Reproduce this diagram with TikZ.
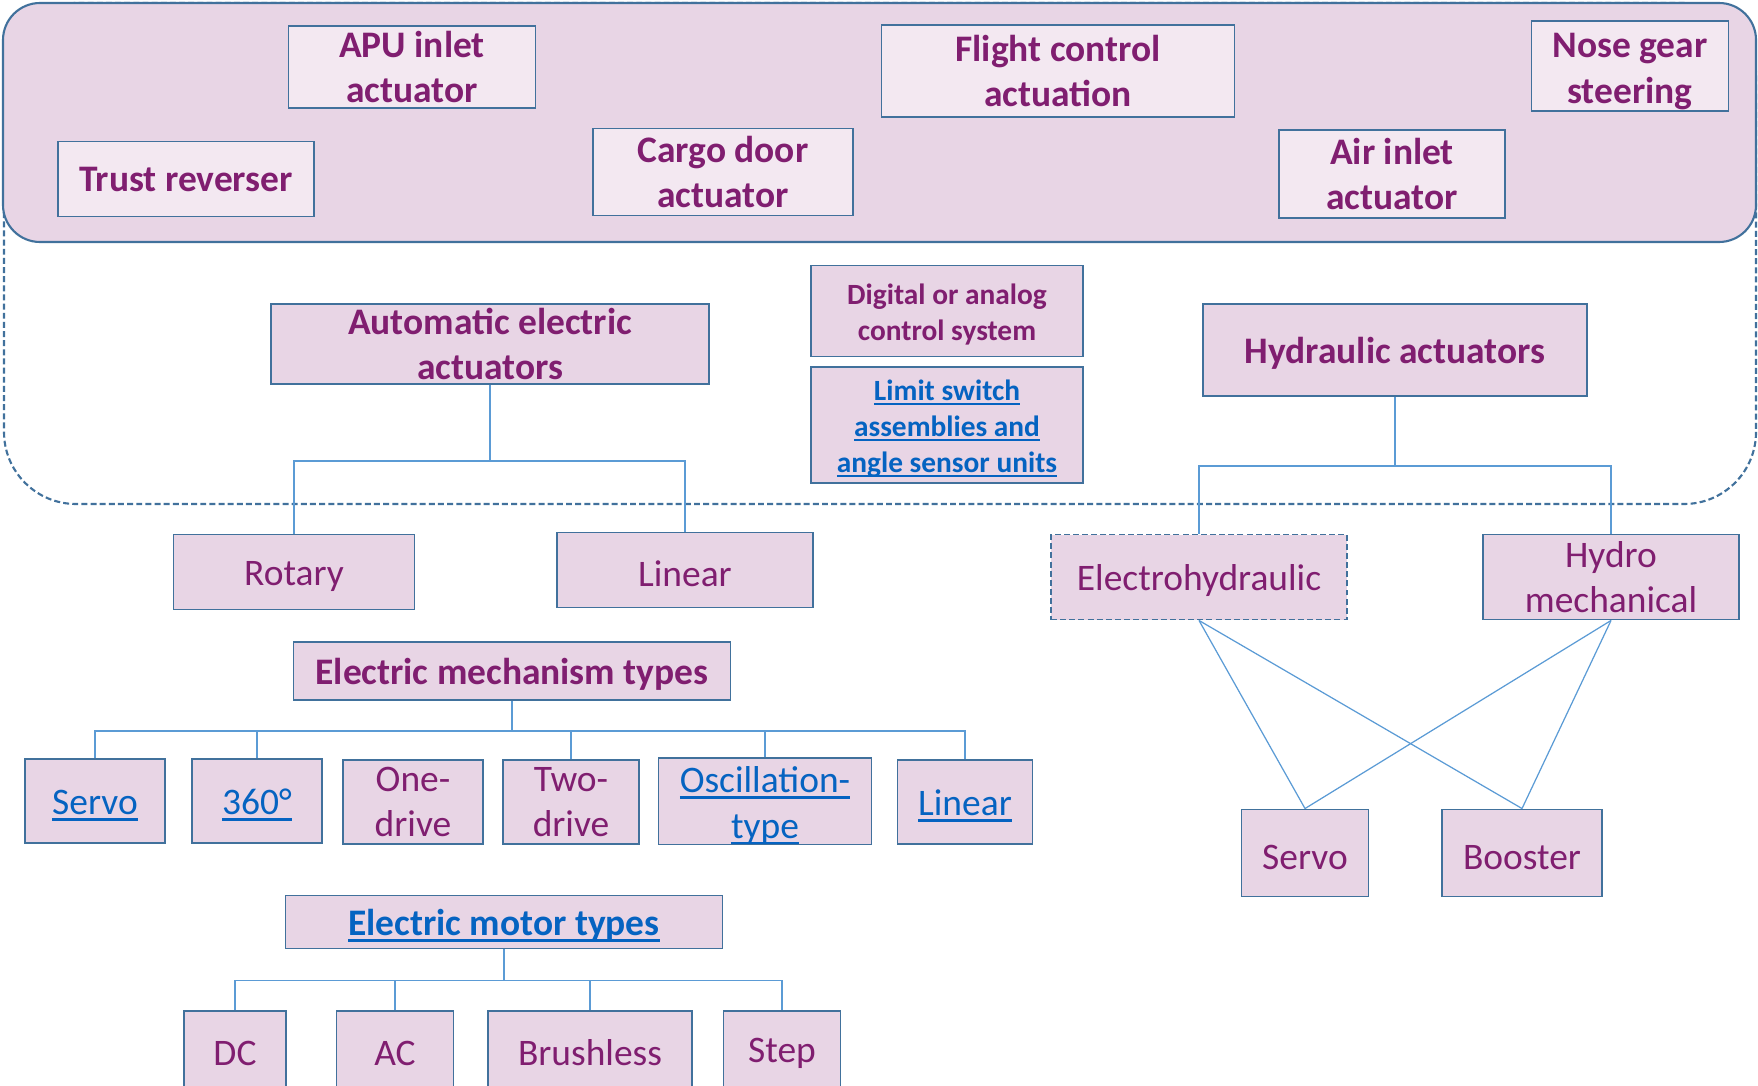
\documentclass[tikz,border=0pt]{standalone}
\usepackage{fontspec}
\setmainfont{Carlito}
\definecolor{FrameBlue}{RGB}{65,113,156}
\definecolor{LinkBlue}{RGB}{91,155,213}
\definecolor{TxtPurple}{RGB}{128,30,112}
\definecolor{HypBlue}{RGB}{5,99,193}
\definecolor{PanelFill}{RGB}{232,213,229}
\definecolor{TopFill}{RGB}{243,232,241}
% underlined hyperlink-style text
\newcommand{\ulnk}[1]{{\color{HypBlue}\setbox0=\hbox{#1}\rlap{\rule[-0.17em]{\wd0}{0.075em}}\box0}}
% strut that lowers a multi-line text a little
\newcommand{\dnstrut}{\rule{0pt}{0.93em}}

\begin{document}
\begin{tikzpicture}[x=0.01cm,y=-0.01cm,
    every node/.style={text=TxtPurple},
    wh/.style 2 args={minimum width={#1*0.01cm},minimum height={#2*0.01cm}},
    base/.style={draw=FrameBlue,line width=0.55pt,inner sep=0pt,align=center},
    drop/.style={execute at begin node={\rule{0pt}{0.88em}}},
    flat/.style={base,fill=PanelFill,font=\fontsize{10.65}{13}\selectfont},
    unit/.style={flat,drop},
    head/.style={unit,font=\fontsize{10.65}{13}\selectfont\bfseries},
    topunit/.style={base,fill=TopFill,font=\fontsize{10.65}{13}\selectfont\bfseries},
    small/.style={unit,font=\fontsize{8.35}{10.2}\selectfont\bfseries},
    link/.style={draw=LinkBlue,line width=0.35pt}]
  \useasboundingbox (0,0) rectangle (1758,1085);
  \clip (0,0) rectangle (1758,1085);

  % frames
  \draw[FrameBlue,line width=0.6pt,dash pattern=on 1.7pt off 0.9pt,rounded corners=0.72cm]
    (4,3) rectangle (1756,504);
  \draw[FrameBlue,fill=PanelFill,line width=0.6pt,rounded corners=0.37cm]
    (3,3) rectangle (1756,242);

  % applications
  \node[topunit,wh={247}{82}]  (apu)    at (412,67)   {APU inlet\\actuator};
  \node[topunit,wh={256}{75}]  (trust)  at (186,179)  {Trust reverser};
  \node[topunit,wh={260}{87}]  (cargo)  at (723,172)  {Cargo door\\actuator};
  \node[topunit,wh={353}{92}]  (flight) at (1058,71)  {Flight control\\actuation};
  \node[topunit,wh={226}{88}]  (airin)  at (1392,174) {Air inlet\\actuator};
  \node[topunit,wh={197}{90}]  (nose)   at (1630,66)  {\dnstrut Nose gear\\steering};

  % actuator families
  \node[head,wh={438}{80}]  (autoel) at (490,344)  {Automatic electric\\actuators};
  \node[small,wh={272}{91}] (dig)    at (947,311)  {\dnstrut Digital or analog\\control system};
  \node[small,wh={272}{116}] (limit) at (947,425)  {\dnstrut\ulnk{Limit switch}\\\ulnk{assemblies and}\\\ulnk{angle sensor units}};
  \node[head,wh={384}{92}]  (hydr)   at (1395,350) {Hydraulic actuators};

  \node[unit,wh={241}{75}] (rotary) at (294,572)  {Rotary};
  \node[unit,wh={256}{75}] (linA)   at (685,570)  {Linear};
  \node[unit,wh={296}{85},dash pattern=on 1.7pt off 0.9pt] (ehyd) at (1199,577) {Electrohydraulic};
  \node[unit,wh={256}{85}] (hmech)  at (1611,577) {Hydro\\mechanical};

  % electric mechanisms
  \node[head,wh={437}{58}] (emt) at (512,671) {Electric mechanism types};
  \node[unit,wh={140}{84}] (mServo) at (95,801)  {\ulnk{Servo}};
  \node[unit,wh={130}{84}] (m360)   at (257,801) {\ulnk{360°}};
  \node[unit,wh={140}{84}] (mOne)   at (413,802) {One-\\drive};
  \node[unit,wh={136}{84}] (mTwo)   at (571,802) {Two-\\drive};
  \node[unit,wh={213}{84}] (mOsc)   at (765,801) {\dnstrut\ulnk{Oscillation-}\\\ulnk{type}};
  \node[unit,wh={135}{84}] (mLin)   at (965,802) {\ulnk{Linear}};

  % motors
  \node[head,wh={437}{53}] (motor) at (504,922) {\ulnk{Electric motor types}};
  \node[flat,wh={102}{84}] (dc)    at (235,1053) {DC};
  \node[flat,wh={117}{84}] (ac)    at (395,1053) {AC};
  \node[flat,wh={204}{84}] (brush) at (590,1053) {Brushless};
  \node[flat,wh={117}{84}] (stp)   at (782,1053) {Step};

  % hydraulic kinds
  \node[unit,wh={127}{87}] (hServo) at (1305,853) {Servo};
  \node[unit,wh={160}{87}] (boost)  at (1522,853) {Booster};

  % connectors
  \draw[link] (autoel.south) -- ++(0,76) coordinate (aeBus) -| (rotary.north);
  \draw[link] (aeBus) -| (linA.north);
  \draw[link] (hydr.south) -- ++(0,69) coordinate (hyBus) -| (ehyd.north);
  \draw[link] (hyBus) -| (hmech.north);
  \draw[link] (emt.south) -- ++(0,30) coordinate (emBus);
  \foreach \c in {mServo,m360,mTwo,mOsc,mLin}
    \draw[link] (emBus) -| (\c.north);
  \draw[link] (motor.south) -- ++(0,31) coordinate (moBus);
  \foreach \c in {dc,ac,brush,stp}
    \draw[link] (moBus) -| (\c.north);
  \foreach \a in {ehyd,hmech}
    \foreach \b in {hServo,boost}
      \draw[link] (\a.south) -- (\b.north);
\end{tikzpicture}
\end{document}
